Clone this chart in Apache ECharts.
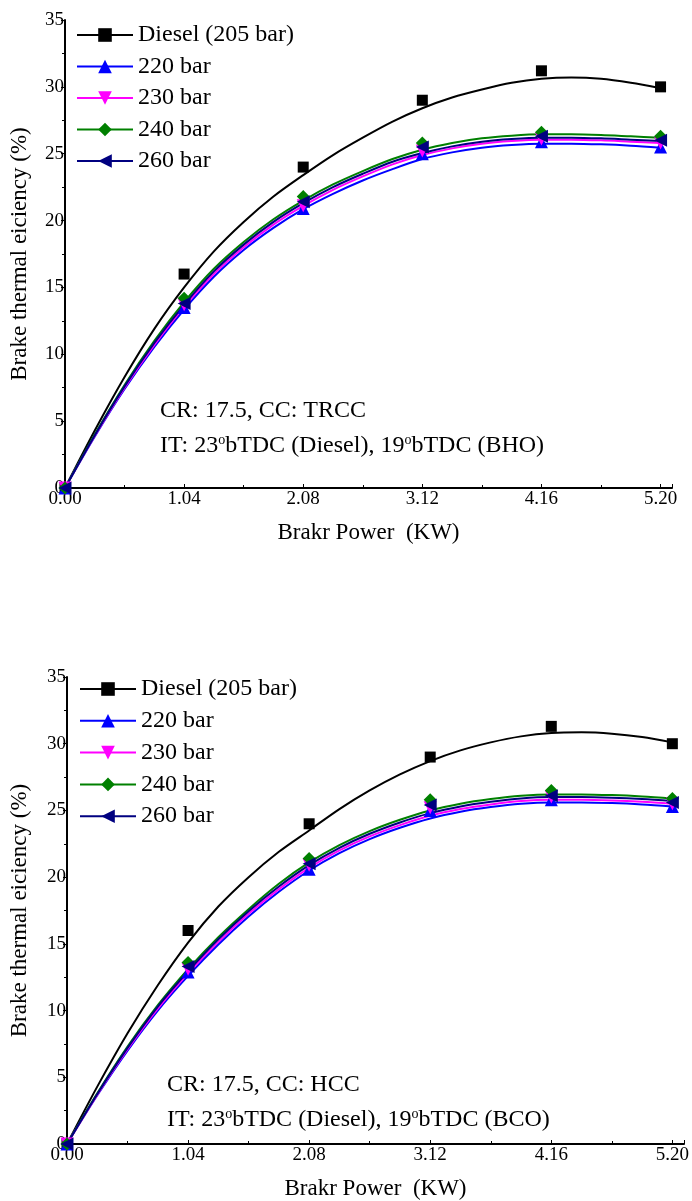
<!DOCTYPE html>
<html>
<head>
<meta charset="utf-8">
<script src="https://cdn.jsdelivr.net/npm/echarts@6/dist/echarts.min.js"></script>
<style>
  html, body { margin: 0; padding: 0; background: #fff; }
  #main { width: 692px; height: 1201px; }
</style>
</head>
<body>
<div id="main"></div>
<script>
// measured points (markers)
const powerX = [0, 1.04, 2.08, 3.12, 4.16, 5.20];
const fitX = [0, 0.26, 0.52, 0.78, 1.04, 1.30, 1.56, 1.82, 2.08, 2.34, 2.60,
  2.86, 3.12, 3.38, 3.64, 3.90, 4.16, 4.42, 4.68, 4.94, 5.20];
const seriesNames = ['Diesel (205 bar)', '220 bar', '230 bar', '240 bar', '260 bar'];
const xTickLabels = ['0.00', '1.04', '2.08', '3.12', '4.16', '5.20'];

// top chart (TRCC / BHO)
const topDiesel = [0, 16.0, 24.0, 29.0, 31.2, 30.0];
const top220 = [0, 13.5, 20.9, 25.0, 25.9, 25.5];
const top230 = [0, 13.7, 21.1, 25.2, 26.1, 25.8];
const top240 = [0, 14.2, 21.8, 25.8, 26.6, 26.3];
const top260 = [0, 13.8, 21.4, 25.5, 26.3, 26.0];

const topFitDiesel = [0, 4.3, 8.3, 11.9, 15.0, 17.7, 19.9, 21.8, 23.4, 24.9, 26.2,
  27.4, 28.4, 29.2, 29.8, 30.3, 30.6, 30.7, 30.6, 30.3, 29.9];
const topFit220 = [0, 3.85, 7.4, 10.55, 13.35, 15.8, 17.8, 19.45, 20.85, 22.0, 23.0,
  23.85, 24.6, 25.1, 25.45, 25.65, 25.75, 25.75, 25.7, 25.6, 25.45];
const topFit230 = [0, 3.9, 7.5, 10.7, 13.55, 16.0, 18.0, 19.7, 21.1, 22.3, 23.3,
  24.2, 24.9, 25.4, 25.75, 25.95, 26.05, 26.05, 26.0, 25.9, 25.8];
const topFit240 = [0, 4.0, 7.7, 11.0, 13.9, 16.4, 18.4, 20.1, 21.5, 22.7, 23.7,
  24.6, 25.3, 25.8, 26.15, 26.35, 26.45, 26.45, 26.4, 26.3, 26.2];
const topFit260 = [0, 3.95, 7.6, 10.85, 13.7, 16.2, 18.2, 19.9, 21.3, 22.5, 23.5,
  24.4, 25.05, 25.55, 25.9, 26.1, 26.2, 26.2, 26.15, 26.05, 25.95];

// bottom chart (HCC / BCO)
const botDiesel = [0, 16.0, 24.0, 29.0, 31.3, 30.0];
const bot220 = [0, 12.9, 20.6, 25.0, 25.8, 25.3];
const bot230 = [0, 13.1, 20.9, 25.2, 26.0, 25.5];
const bot240 = [0, 13.6, 21.4, 25.8, 26.5, 25.9];
const bot260 = [0, 13.3, 21.0, 25.4, 26.1, 25.6];

const botFitDiesel = [0, 4.3, 8.3, 11.9, 15.1, 17.8, 20.0, 21.9, 23.5, 25.1, 26.5,
  27.7, 28.7, 29.5, 30.1, 30.55, 30.8, 30.85, 30.75, 30.5, 30.1];
const botFit220 = [0, 3.65, 7.0, 10.0, 12.6, 14.95, 17.05, 18.9, 20.5, 21.8, 22.85,
  23.7, 24.4, 24.9, 25.25, 25.5, 25.6, 25.6, 25.55, 25.45, 25.3];
const botFit230 = [0, 3.7, 7.1, 10.15, 12.8, 15.15, 17.25, 19.1, 20.7, 22.0, 23.05,
  23.9, 24.6, 25.1, 25.45, 25.7, 25.8, 25.8, 25.75, 25.65, 25.5];
const botFit240 = [0, 3.8, 7.3, 10.4, 13.1, 15.5, 17.6, 19.5, 21.1, 22.4, 23.45,
  24.3, 25.0, 25.5, 25.85, 26.1, 26.2, 26.2, 26.15, 26.05, 25.9];
const botFit260 = [0, 3.75, 7.2, 10.3, 12.95, 15.35, 17.45, 19.3, 20.9, 22.2, 23.25,
  24.1, 24.8, 25.3, 25.65, 25.9, 26.0, 26.0, 25.95, 25.85, 25.7];

const colors = ['#000000', '#0000ff', '#ff00ff', '#008000', '#000080'];
const symbols = ['rect', 'triangle', 'path://M0,0L10,0L5,10Z', 'diamond', 'path://M10,0L10,10L0,5Z'];
const FONT = '"Liberation Serif", "Times New Roman", serif';

const zip = (xs, ys) => xs.map((x, i) => [x, ys[i]]);

function makeSeries(idx, markers, fits) {
  const out = [];
  // fitted curves first (legend icon comes from these)
  fits.forEach((ys, k) => {
    out.push({
      name: seriesNames[k], type: 'line', xAxisIndex: idx, yAxisIndex: idx,
      data: zip(fitX, ys), smooth: 0.3, showSymbol: false,
      symbol: symbols[k], symbolSize: 13,
      lineStyle: { color: colors[k], width: 2 },
      itemStyle: { color: colors[k] },
      silent: true, z: 2
    });
  });
  markers.forEach((ys, k) => {
    out.push({
      name: seriesNames[k], type: 'scatter', xAxisIndex: idx, yAxisIndex: idx,
      data: zip(powerX, ys), symbol: symbols[k],
      symbolSize: k === 0 ? 11 : 13,
      itemStyle: { color: colors[k], opacity: 1 },
      z: 3
    });
  });
  return out;
}

function xAxisCfg(idx) {
  return {
    type: 'value', gridIndex: idx, min: 0, max: 5.3, interval: 1.04,
    name: 'Brakr Power  (KW)', nameLocation: 'middle', nameGap: 33,
    nameTextStyle: { fontFamily: FONT, fontSize: 23, color: '#000' },
    axisLine: { onZero: false, lineStyle: { color: '#000', width: 2 } },
    axisTick: { inside: true, length: 4, lineStyle: { color: '#000' } },
    minorTick: { show: true, splitNumber: 2, length: 3, lineStyle: { color: '#000' } },
    splitLine: { show: false },
    axisLabel: {
      fontFamily: FONT, fontSize: 19, color: '#000', margin: 2,
      formatter: v => { const i = Math.round(v / 1.04); return Math.abs(v - i * 1.04) < 1e-6 ? xTickLabels[i] : ''; }
    }
  };
}

function yAxisCfg(idx, gap) {
  return {
    type: 'value', gridIndex: idx, min: 0, max: 35, interval: 5,
    name: 'Brake thermal eiciency (%)', nameLocation: 'middle', nameGap: gap,
    nameTextStyle: { fontFamily: FONT, fontSize: 23, color: '#000' },
    axisLine: { onZero: false, lineStyle: { color: '#000', width: 2 } },
    axisTick: { inside: false, length: 4, lineStyle: { color: '#000' } },
    minorTick: { show: true, splitNumber: 2, length: 3, lineStyle: { color: '#000' } },
    splitLine: { show: false },
    axisLabel: { fontFamily: FONT, fontSize: 19, color: '#000', margin: 1 }
  };
}

function legendCfg(top, left, gap) {
  return {
    orient: 'vertical', left: left, top: top,
    data: seriesNames, itemWidth: 56, itemHeight: 17, itemGap: gap,
    textStyle: { fontFamily: FONT, fontSize: 24, color: '#000', lineHeight: 22 },
    selectedMode: false
  };
}

const richStyle = {
  n: { fontFamily: FONT, fontSize: 24, lineHeight: 26, fill: '#000' },
  s: { fontFamily: FONT, fontSize: 14, lineHeight: 14, verticalAlign: 'top', fill: '#000' }
};

const chart = echarts.init(document.getElementById('main'), null, { renderer: 'canvas' });
chart.setOption({
  backgroundColor: '#fff',
  animation: false,
  grid: [
    { left: 61, top: 20, width: 611, height: 468 },
    { left: 65, top: 677, width: 619, height: 467 }
  ],
  xAxis: [xAxisCfg(0), xAxisCfg(1)],
  yAxis: [yAxisCfg(0, 34), yAxisCfg(1, 36)],
  legend: [legendCfg(18, 71, 7.5), legendCfg(672, 74, 7.8)],
  graphic: [
    { type: 'text', left: 160, top: 399, style: { text: 'CR: 17.5, CC: TRCC', font: '24px ' + FONT, fill: '#000' } },
    { type: 'text', left: 160, top: 433, style: { text: '{n|IT: 23}{s|o}{n|bTDC (Diesel), 19}{s|o}{n|bTDC (BHO)}', rich: richStyle } },
    { type: 'text', left: 167, top: 1073, style: { text: 'CR: 17.5, CC: HCC', font: '24px ' + FONT, fill: '#000' } },
    { type: 'text', left: 167, top: 1107, style: { text: '{n|IT: 23}{s|o}{n|bTDC (Diesel), 19}{s|o}{n|bTDC (BCO)}', rich: richStyle } }
  ],
  series: [].concat(
    makeSeries(0, [topDiesel, top220, top230, top240, top260],
      [topFitDiesel, topFit220, topFit230, topFit240, topFit260]),
    makeSeries(1, [botDiesel, bot220, bot230, bot240, bot260],
      [botFitDiesel, botFit220, botFit230, botFit240, botFit260])
  )
});
</script>
</body>
</html>
